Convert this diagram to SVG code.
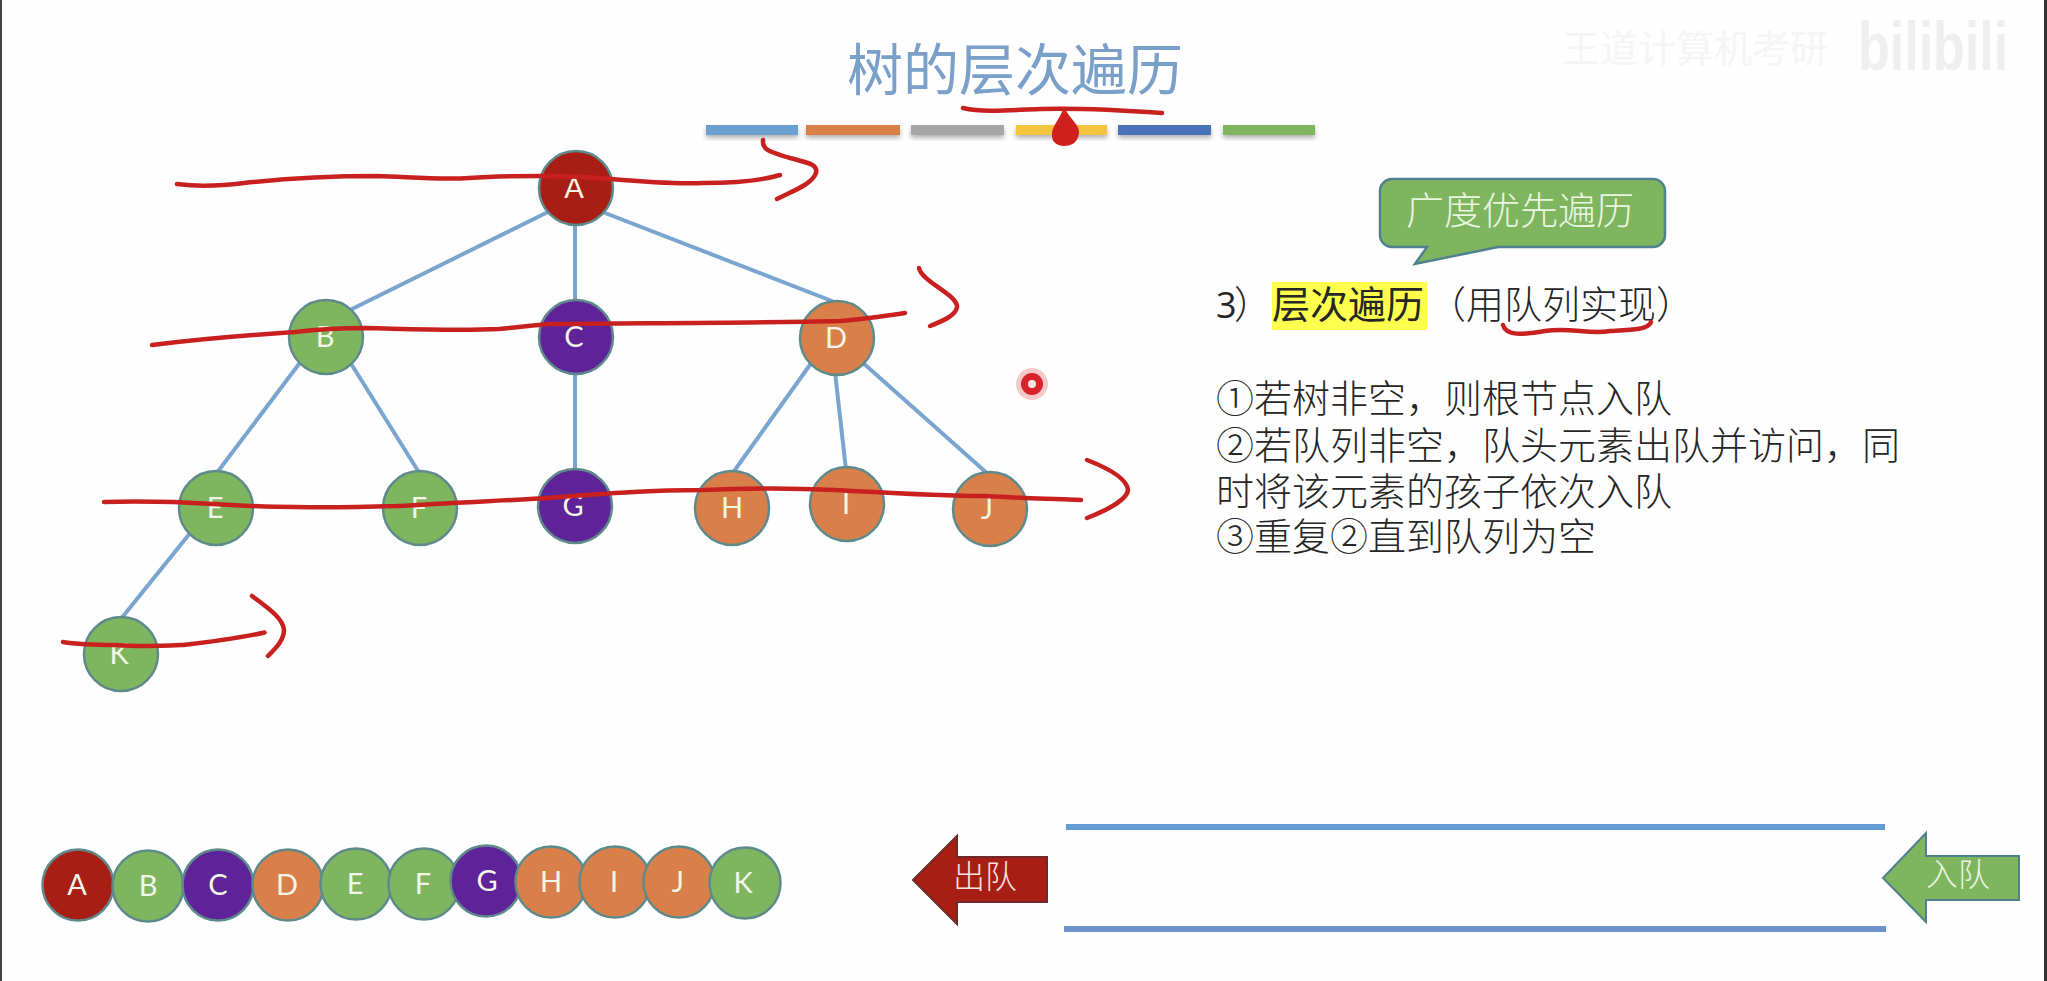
<svg xmlns="http://www.w3.org/2000/svg" width="2047" height="981" viewBox="0 0 2047 981">
<style>
text{font-family:"Noto Sans CJK SC","Noto Sans",sans-serif}
.n{stroke:#5f8a8c;stroke-width:2.5}
.r{fill:#a91e14}.g{fill:#7fb55e}.p{fill:#5f2399}.o{fill:#d9804a}
.l{font-family:Lato,"Open Sans",sans-serif;font-size:29px;fill:#f2f6e8;text-anchor:middle}
.e{stroke:#7aa5cf;stroke-width:4;fill:none}
.i{fill:none;stroke:#c8201f;stroke-width:4.5;stroke-linecap:round;stroke-linejoin:round}
.t{font-size:38px;fill:#262626;font-weight:300}
.b{filter:url(#s)}
</style>
<defs><filter id="s" x="-5%" y="-30%" width="110%" height="190%"><feDropShadow dx="0" dy="3" stdDeviation="2.5" flood-color="#000" flood-opacity=".3"/></filter></defs>
<rect width="2047" height="981" fill="#fefefe"/>
<rect x="0" y="0" width="2" height="981" fill="#444"/>
<rect x="2044" y="0" width="3" height="981" fill="#333"/>
<g id="watermark">
<text x="1562" y="62" font-size="38" fill="#f5f5f5">王道计算机考研</text>
<text transform="translate(1858 70) scale(1 1.3)" font-size="52" font-weight="700" fill="#efefef" style="font-family:'Liberation Sans',sans-serif">bilibili</text>
</g>
<g id="title">
<text x="1015" y="90" font-size="56" fill="#7a9fc9" text-anchor="middle">树的层次遍历</text>
<rect class="b" x="706" y="125" width="92" height="10" fill="#6b9fcf"/>
<rect class="b" x="806" y="125" width="94" height="10" fill="#d9804a"/>
<rect class="b" x="911" y="125" width="93" height="10" fill="#a6a6a6"/>
<rect class="b" x="1016" y="125" width="91" height="10" fill="#f2c53d"/>
<rect class="b" x="1118" y="125" width="93" height="10" fill="#4a72b8"/>
<rect class="b" x="1223" y="125" width="92" height="10" fill="#7fb55e"/>
</g>
<g id="connectors">
<line class="e" x1="550" y1="211" x2="350" y2="310"/>
<line class="e" x1="575" y1="220" x2="575" y2="305"/>
<line class="e" x1="600" y1="211" x2="837" y2="303"/>
<line class="e" x1="302" y1="360" x2="216" y2="474"/>
<line class="e" x1="350" y1="362" x2="420" y2="474"/>
<line class="e" x1="575" y1="370" x2="575" y2="473"/>
<line class="e" x1="812" y1="362" x2="732" y2="474"/>
<line class="e" x1="835" y1="372" x2="846" y2="470"/>
<line class="e" x1="862" y1="362" x2="988" y2="474"/>
<line class="e" x1="191" y1="532" x2="120" y2="620"/>
</g>
<g id="node-A"><circle class="n r" cx="576" cy="188" r="37"/><text class="l" x="574" y="198">A</text></g>
<g id="node-B"><circle class="n g" cx="326" cy="337" r="37"/><text class="l" x="325" y="347">B</text></g>
<g id="node-C"><circle class="n p" cx="576" cy="337" r="37"/><text class="l" x="574" y="347">C</text></g>
<g id="node-D"><circle class="n o" cx="837" cy="338" r="37"/><text class="l" x="836" y="348">D</text></g>
<g id="node-E"><circle class="n g" cx="216" cy="508" r="37"/><text class="l" x="215" y="518">E</text></g>
<g id="node-F"><circle class="n g" cx="420" cy="508" r="37"/><text class="l" x="419" y="518">F</text></g>
<g id="node-G"><circle class="n p" cx="575" cy="506" r="37"/><text class="l" x="573" y="516">G</text></g>
<g id="node-H"><circle class="n o" cx="732" cy="508" r="37"/><text class="l" x="732" y="518">H</text></g>
<g id="node-I"><circle class="n o" cx="847" cy="504" r="37"/><text class="l" x="846" y="514">I</text></g>
<g id="node-J"><circle class="n o" cx="990" cy="509" r="37"/><text class="l" x="987" y="519">J</text></g>
<g id="node-K"><circle class="n g" cx="121" cy="654" r="37"/><text class="l" x="119" y="664">K</text></g>
<g id="callout">
<path d="M1392 179H1653a12 12 0 0 1 12 12V235a12 12 0 0 1-12 12H1498L1415 264L1427 247H1392a12 12 0 0 1-12-12V191a12 12 0 0 1 12-12Z" fill="#7fb55e" stroke="#4e8090" stroke-width="2.5"/>
<text x="1406" y="224" font-size="38" fill="#e9f5e0" font-weight="300">广度优先遍历</text>
</g>
<g id="description">
<rect x="1272" y="282" width="155" height="48" fill="#ffff4d"/>
<text class="t" x="1216" y="318" style="font-family:'Open Sans',sans-serif;font-size:36px;font-weight:400">3</text>
<text class="t" x="1234" y="318">）</text>
<text class="t" x="1272" y="318" style="font-weight:400">层次遍历</text>
<text class="t" x="1428" y="318">（用队列实现）</text>
<text class="t"><tspan x="1216" y="412">①若树非空，则根节点入队</tspan><tspan x="1216" y="459">②若队列非空，队头元素出队并访问，同</tspan><tspan x="1216" y="505">时将该元素的孩子依次入队</tspan><tspan x="1216" y="550">③重复②直到队列为空</tspan></text>
</g>
<g id="queue-result">
<g><circle class="n r" cx="78" cy="885" r="35.5"/><text class="l" x="77" y="895">A</text></g>
<g><circle class="n g" cx="148" cy="886" r="35.5"/><text class="l" x="148" y="896">B</text></g>
<g><circle class="n p" cx="218" cy="885" r="35.5"/><text class="l" x="218" y="895">C</text></g>
<g><circle class="n o" cx="288" cy="885" r="35.5"/><text class="l" x="287" y="895">D</text></g>
<g><circle class="n g" cx="356" cy="884" r="35.5"/><text class="l" x="355" y="894">E</text></g>
<g><circle class="n g" cx="424" cy="884" r="35.5"/><text class="l" x="423" y="894">F</text></g>
<g><circle class="n p" cx="486" cy="881" r="35.5"/><text class="l" x="487" y="891">G</text></g>
<g><circle class="n o" cx="551" cy="882" r="35.5"/><text class="l" x="551" y="892">H</text></g>
<g><circle class="n o" cx="615" cy="882" r="35.5"/><text class="l" x="614" y="892">I</text></g>
<g><circle class="n o" cx="679" cy="882" r="35.5"/><text class="l" x="678" y="892">J</text></g>
<g><circle class="n g" cx="745" cy="883" r="35.5"/><text class="l" x="743" y="893">K</text></g>
</g>
<g id="queue">
<rect x="1066" y="824" width="819" height="6" fill="#649bd2"/>
<rect x="1064" y="926" width="822" height="6" fill="#6c93c9"/>
</g>
<g id="arrow-out">
<path d="M913 880L957 836V857H1047V902H957V924Z" fill="#a91e14" stroke="#6e2a2a" stroke-width="2"/>
<text x="953" y="888" font-size="32" fill="#f4e4e0" font-weight="300">出队</text>
</g>
<g id="arrow-in">
<path d="M1883 878L1926 833V856H2019V900H1926V922Z" fill="#7fb55e" stroke="#4e8090" stroke-width="2"/>
<text x="1926" y="886" font-size="32" fill="#e9f5e0" font-weight="300">入队</text>
</g>
<g id="ink">
<path class="i" d="M177 184C200 187 220 186 244 183C290 178 335 176 377 176C410 177 440 180 469 178C495 176 520 176 540 176C565 176 590 177 611 179C645 182 675 184 703 183C730 183 760 181 780 175"/>
<path class="i" d="M763 140C762 152 775 153 790 158C808 163 818 164 816 173C812 184 795 190 777 199"/>
<path class="i" d="M152 345C200 339 250 335 295 332C320 329 340 328 367 328C410 329 455 331 499 329C520 327 535 325 550 324C650 323 750 323 840 321C865 319 885 316 905 313"/>
<path class="i" d="M919 268C922 282 958 295 957 307C956 315 945 320 930 326"/>
<path class="i" d="M104 502C140 501 180 502 213 504C245 506 270 507 295 507C330 508 365 507 397 506C445 503 495 501 540 498.5C600 494 650 490 703 490C750 488 795 488 835 490C890 493 935 496 986 496C1020 498 1050 499 1081 500"/>
<path class="i" d="M1087 460C1105 467 1127 478 1128 490C1127 500 1105 511 1087 518"/>
<path class="i" d="M63 642C80 645 100 645 116.5 645C140 647 160 646 183 645C210 642 240 638 264.5 632.5"/>
<path class="i" d="M252 596C268 608 283 618 284 630C284 640 276 648 268 656"/>
<path class="i" d="M963 108C985 113 1010 110 1040 109C1080 108 1120 110 1162 113" stroke-width="5"/>
<path d="M1064 106C1068 118 1080 124 1079 133C1078 142 1072 146 1064 146C1056 146 1051 141 1052 133C1053 124 1061 118 1064 106Z" fill="#d0201e"/>
<path class="i" d="M1503 325C1506 336 1522 335 1545 331C1570 327 1590 335 1610 331C1630 330 1648 330 1651 322" stroke-width="5"/>
<circle cx="1032" cy="384" r="16" fill="#f6c9c9"/>
<circle cx="1032" cy="384" r="11" fill="#d9232b"/>
<circle cx="1032" cy="384" r="4" fill="#fbe3e3"/>
</g>
</svg>
